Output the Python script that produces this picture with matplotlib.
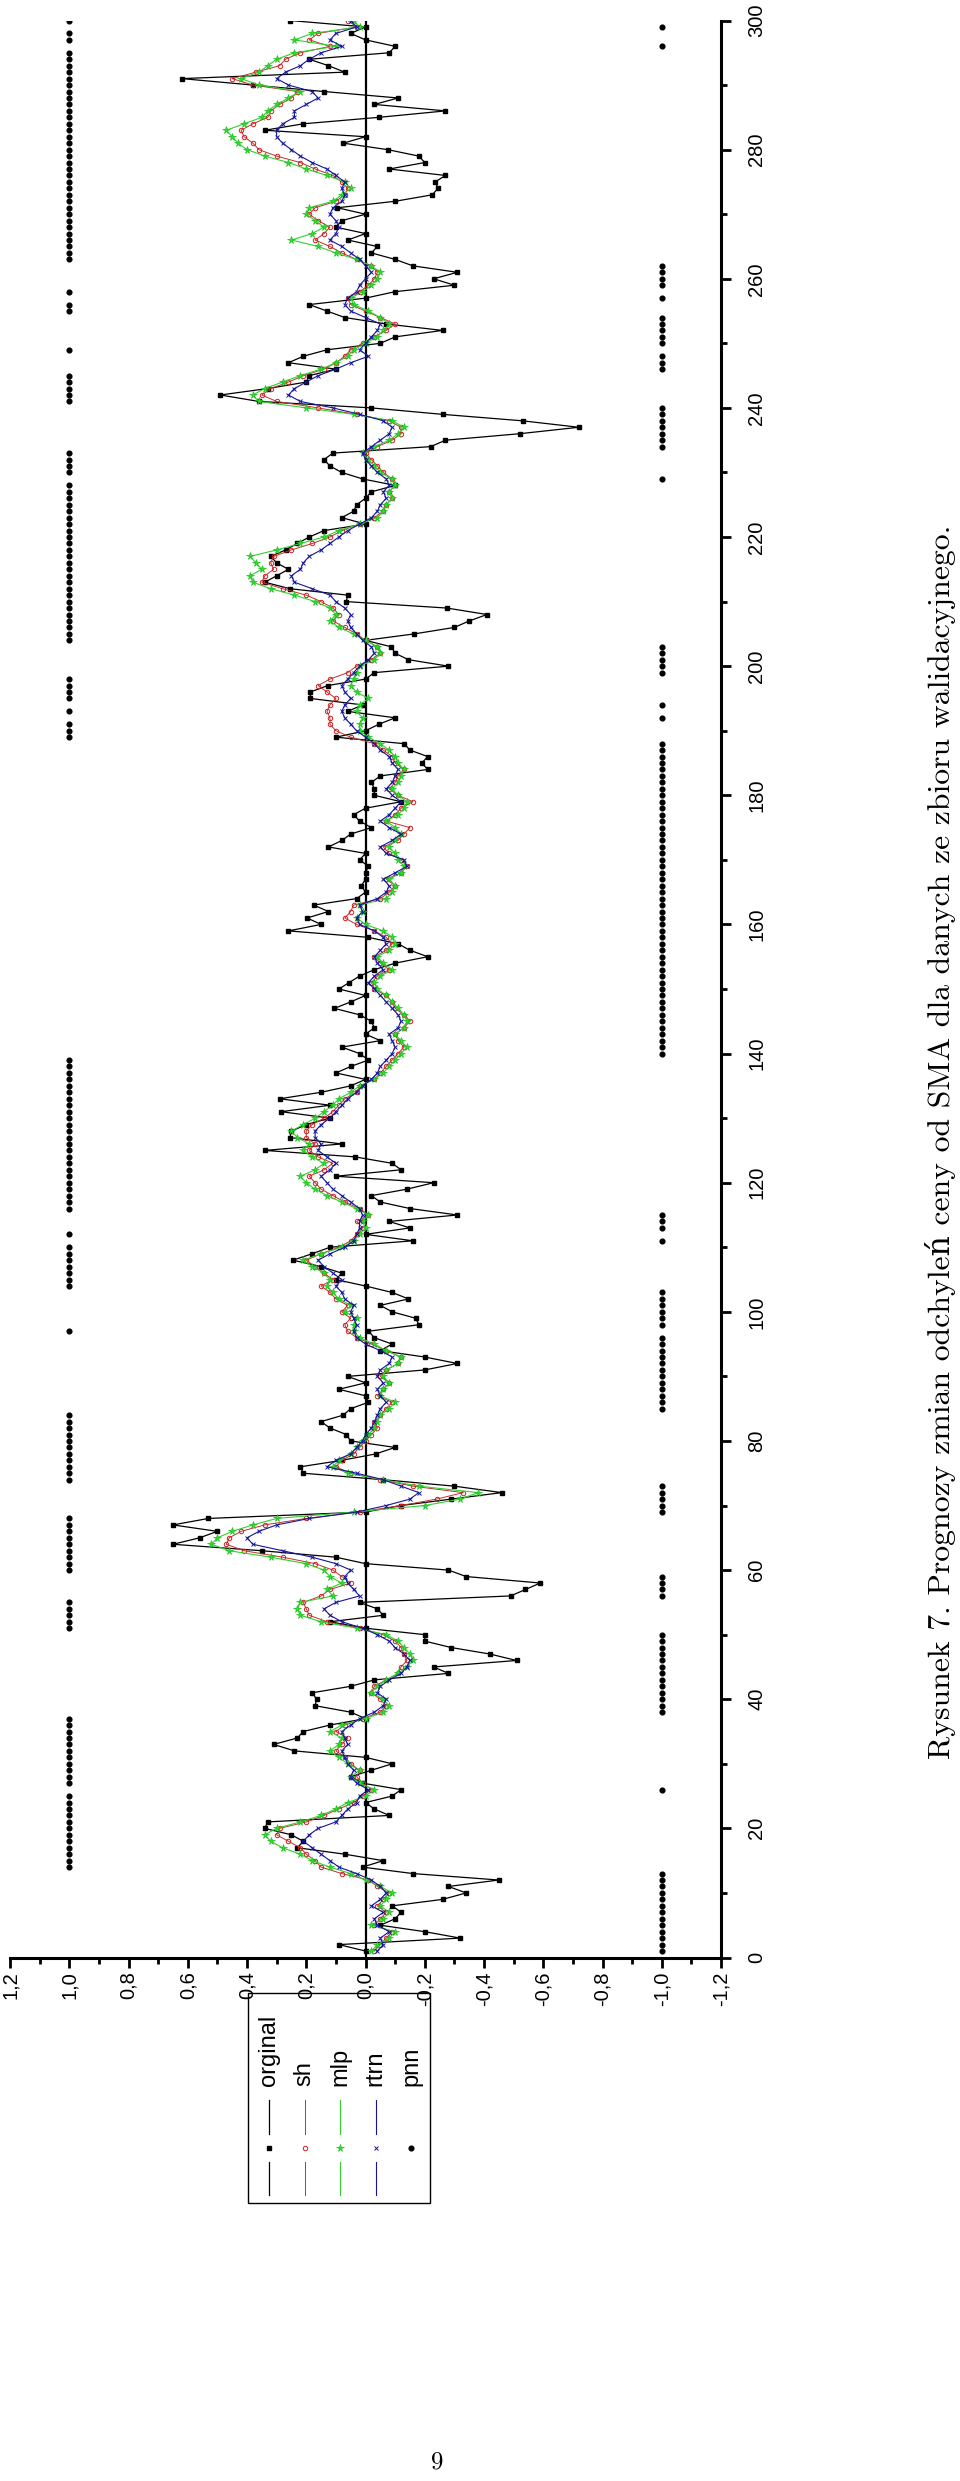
import numpy as np
import matplotlib
matplotlib.use("Agg")
import matplotlib.pyplot as plt
from matplotlib.lines import Line2D
from matplotlib.patches import Rectangle
from matplotlib.ticker import MultipleLocator, FuncFormatter

orginal = [
    0.00, 0.09, -0.32, -0.20, -0.05, -0.10, -0.12, -0.09, -0.26, -0.34,
    -0.28, -0.45, -0.16, 0.01, -0.06, 0.07, 0.23, 0.21, 0.25, 0.34,
    0.33, -0.08, -0.03, 0.00, -0.09, -0.12, 0.01, 0.05, -0.02, -0.09,
    0.00, 0.24, 0.31, 0.23, 0.21, 0.12, 0.00, 0.05, 0.17, 0.165,
    0.18, 0.05, -0.03, -0.28, -0.23, -0.51, -0.42, -0.29, -0.20, -0.20,
    0.00, 0.12, -0.06, -0.04, 0.02, -0.49, -0.54, -0.59, -0.34, -0.28,
    0.00, 0.10, 0.35, 0.65, 0.56, 0.50, 0.65, 0.53, 0.00, -0.12,
    -0.29, -0.46, -0.30, -0.06, 0.21, 0.22, 0.08, -0.035, -0.10, 0.05,
    0.065, 0.12, 0.15, 0.075, 0.05, -0.01, 0.00, 0.09, 0.00, 0.06,
    -0.20, -0.31, -0.20, -0.05, -0.09, -0.03, -0.01, -0.18, -0.17, -0.09,
    -0.05, -0.145, -0.09, 0.00, 0.10, 0.08, 0.15, 0.245, 0.18, 0.12,
    -0.16, 0.00, -0.15, -0.08, -0.31, -0.15, -0.05, -0.02, -0.14, -0.23,
    0.10, -0.12, -0.09, 0.035, 0.34, 0.08, 0.255, 0.25, 0.20, 0.12,
    0.285, 0.12, 0.29, 0.15, 0.05, 0.00, 0.10, 0.05, -0.01, 0.02,
    0.08, -0.05, 0.00, -0.03, -0.02, 0.02, 0.105, 0.05, 0.00, 0.09,
    0.055, 0.02, -0.03, -0.10, -0.21, -0.15, -0.11, -0.01, 0.26, 0.15,
    0.197, 0.125, 0.175, 0.03, 0.00, 0.014, 0.00, 0.00, -0.01, 0.02,
    0.00, 0.125, 0.08, 0.05, -0.02, 0.02, 0.04, 0.00, -0.12, -0.03,
    -0.03, -0.02, -0.05, -0.21, -0.19, -0.21, -0.15, -0.13, 0.10, 0.00,
    -0.045, -0.10, 0.06, 0.01, 0.186, 0.186, 0.127, 0.00, -0.03, -0.28,
    -0.145, -0.10, -0.087, 0.00, -0.165, -0.30, -0.35, -0.41, -0.275, 0.065,
    0.06, 0.255, 0.34, 0.30, 0.26, 0.30, 0.32, 0.27, 0.23, 0.19,
    0.14, 0.00, 0.08, 0.04, 0.03, 0.00, -0.02, -0.10, 0.01, 0.08,
    0.12, 0.14, 0.11, -0.22, -0.27, -0.52, -0.72, -0.53, -0.26, -0.02,
    0.36, 0.49, 0.33, 0.20, 0.19, 0.10, 0.26, 0.21, 0.13, -0.05,
    -0.10, -0.26, -0.07, 0.07, 0.13, 0.19, 0.00, -0.10, -0.30, -0.23,
    -0.31, -0.16, -0.10, -0.02, -0.04, 0.06, 0.00, 0.10, 0.08, 0.00,
    0.095, -0.10, -0.225, -0.245, -0.235, -0.27, -0.08, -0.20, -0.18, -0.075,
    0.075, 0.00, 0.34, 0.21, -0.045, -0.27, -0.03, -0.11, 0.14, 0.38,
    0.62, 0.07, 0.125, 0.19, -0.08, -0.10, 0.00, 0.05, 0.00, 0.255,
]

sh = [
    -0.03, -0.05, -0.07, -0.09, -0.03, -0.05, -0.07, -0.04, -0.06, -0.08,
    -0.04, -0.01, 0.08, 0.15, 0.17, 0.20, 0.22, 0.26, 0.30, 0.29,
    0.20, 0.14, 0.09, 0.04, 0.01, -0.02, 0.01, 0.03, 0.02, 0.05,
    0.07, 0.10, 0.08, 0.06, 0.10, 0.07, 0.01, -0.05, -0.07, -0.05,
    -0.02, -0.03, -0.07, -0.11, -0.12, -0.14, -0.13, -0.12, -0.10, -0.06,
    0.02, 0.13, 0.19, 0.20, 0.21, 0.15, 0.12, 0.05, 0.08, 0.11,
    0.17, 0.28, 0.41, 0.47, 0.46, 0.42, 0.34, 0.20, 0.02, -0.12,
    -0.24, -0.33, -0.16, -0.05, 0.05, 0.10, 0.08, 0.04, 0.02, 0.00,
    -0.02, -0.04, -0.03, -0.05, -0.07, -0.09, -0.04, -0.06, -0.08, -0.05,
    -0.07, -0.11, -0.12, -0.07, -0.02, 0.03, 0.06, 0.07, 0.05, 0.08,
    0.06, 0.10, 0.12, 0.15, 0.11, 0.14, 0.17, 0.20, 0.15, 0.09,
    0.05, 0.03, 0.01, 0.03, -0.01, 0.02, 0.07, 0.11, 0.15, 0.17,
    0.19, 0.14, 0.11, 0.16, 0.19, 0.17, 0.20, 0.20, 0.18, 0.14,
    0.11, 0.09, 0.07, 0.03, 0.02, -0.03, -0.05, -0.07, -0.09, -0.11,
    -0.13, -0.11, -0.10, -0.13, -0.15, -0.13, -0.10, -0.09, -0.07, -0.03,
    -0.02, -0.04, -0.08, -0.05, -0.03, -0.07, -0.09, -0.07, -0.03, 0.03,
    0.07, 0.05, 0.04, -0.05, -0.08, -0.10, -0.07, -0.12, -0.14, -0.12,
    -0.08, -0.06, -0.11, -0.13, -0.15, -0.07, -0.10, -0.12, -0.16, -0.11,
    -0.08, -0.10, -0.11, -0.13, -0.10, -0.09, -0.06, -0.03, 0.05, 0.10,
    0.12, 0.12, 0.13, 0.12, 0.10, 0.13, 0.16, 0.12, 0.06, 0.03,
    -0.02, -0.05, -0.04, 0.00, 0.03, 0.07, 0.11, 0.09, 0.11, 0.15,
    0.20, 0.28, 0.35, 0.34, 0.31, 0.32, 0.31, 0.25, 0.18, 0.12,
    0.08, 0.02, -0.03, -0.06, -0.07, -0.09, -0.08, -0.10, -0.09, -0.06,
    -0.04, -0.02, 0.00, -0.04, -0.09, -0.12, -0.12, -0.08, 0.03, 0.16,
    0.30, 0.35, 0.32, 0.26, 0.21, 0.14, 0.10, 0.07, 0.05, 0.01,
    -0.03, -0.07, -0.10, -0.05, 0.00, 0.05, 0.06, 0.02, -0.01, -0.03,
    -0.04, -0.02, 0.03, 0.08, 0.12, 0.17, 0.14, 0.12, 0.16, 0.19,
    0.17, 0.10, 0.07, 0.06, 0.08, 0.11, 0.17, 0.22, 0.30, 0.36,
    0.38, 0.41, 0.42, 0.38, 0.33, 0.32, 0.29, 0.25, 0.23, 0.38,
    0.45, 0.37, 0.29, 0.27, 0.22, 0.12, 0.19, 0.16, 0.03, 0.06,
]

mlp = [
    -0.02, -0.04, -0.08, -0.10, -0.02, -0.06, -0.08, -0.05, -0.07, -0.09,
    -0.05, 0.00, 0.05, 0.12, 0.18, 0.22, 0.28, 0.32, 0.34, 0.30,
    0.22, 0.15, 0.10, 0.06, 0.00, -0.03, 0.02, 0.05, 0.02, 0.06,
    0.09, 0.12, 0.09, 0.08, 0.12, 0.08, 0.00, -0.06, -0.08, -0.06,
    -0.02, -0.04, -0.07, -0.11, -0.14, -0.16, -0.15, -0.13, -0.11, -0.07,
    0.03, 0.15, 0.22, 0.23, 0.22, 0.11, 0.13, 0.08, 0.12, 0.14,
    0.20, 0.32, 0.46, 0.52, 0.50, 0.45, 0.38, 0.30, 0.04, -0.20,
    -0.32, -0.38, -0.18, -0.06, 0.06, 0.11, 0.09, 0.05, 0.03, 0.01,
    -0.01, -0.03, -0.04, -0.05, -0.08, -0.10, -0.05, -0.06, -0.08, -0.06,
    -0.07, -0.11, -0.12, -0.07, -0.03, 0.02, 0.04, 0.04, 0.03, 0.07,
    0.05, 0.09, 0.11, 0.13, 0.12, 0.14, 0.18, 0.21, 0.15, 0.08,
    0.04, 0.02, 0.00, 0.01, -0.01, 0.03, 0.08, 0.13, 0.17, 0.20,
    0.22, 0.17, 0.14, 0.18, 0.21, 0.19, 0.23, 0.25, 0.21, 0.17,
    0.14, 0.11, 0.09, 0.05, 0.02, -0.03, -0.06, -0.08, -0.10, -0.12,
    -0.14, -0.12, -0.10, -0.13, -0.14, -0.13, -0.11, -0.09, -0.07, -0.04,
    -0.03, -0.05, -0.09, -0.06, -0.04, -0.08, -0.10, -0.09, -0.06, 0.00,
    0.03, 0.01, 0.02, -0.07, -0.09, -0.10, -0.08, -0.12, -0.13, -0.11,
    -0.10, -0.08, -0.10, -0.12, -0.10, -0.07, -0.11, -0.13, -0.14, -0.11,
    -0.09, -0.11, -0.12, -0.13, -0.11, -0.10, -0.08, -0.05, -0.01, 0.02,
    0.02, 0.01, 0.03, 0.02, -0.01, 0.03, 0.05, 0.04, 0.03, 0.02,
    -0.03, -0.05, -0.04, 0.00, 0.04, 0.09, 0.12, 0.10, 0.12, 0.17,
    0.24, 0.32, 0.38, 0.39, 0.35, 0.37, 0.39, 0.30, 0.22, 0.14,
    0.09, 0.02, -0.04, -0.06, -0.07, -0.09, -0.08, -0.10, -0.09, -0.05,
    -0.03, -0.01, 0.01, -0.03, -0.08, -0.11, -0.13, -0.09, 0.04, 0.20,
    0.36, 0.38, 0.34, 0.28, 0.22, 0.15, 0.10, 0.06, 0.04, 0.00,
    -0.04, -0.06, -0.08, -0.05, -0.01, 0.04, 0.05, 0.01, -0.02, -0.04,
    -0.05, -0.02, 0.03, 0.10, 0.16, 0.25, 0.18, 0.14, 0.17, 0.20,
    0.19, 0.11, 0.08, 0.05, 0.07, 0.13, 0.20, 0.26, 0.34, 0.40,
    0.43, 0.45, 0.47, 0.41, 0.35, 0.33, 0.30, 0.26, 0.22, 0.36,
    0.42, 0.36, 0.33, 0.30, 0.24, 0.10, 0.24, 0.18, 0.02, 0.04,
]

rtrn = [
    -0.04, -0.06, -0.05, -0.08, -0.04, -0.03, -0.06, -0.02, -0.05, -0.07,
    -0.05, -0.02, 0.03, 0.09, 0.12, 0.15, 0.18, 0.21, 0.19, 0.16,
    0.10, 0.08, 0.06, 0.03, 0.02, -0.01, 0.03, 0.05, 0.04, 0.06,
    0.07, 0.08, 0.06, 0.07, 0.08, 0.05, 0.02, -0.03, -0.06, -0.07,
    -0.04, -0.05, -0.08, -0.12, -0.14, -0.15, -0.13, -0.10, -0.08, -0.04,
    0.01, 0.08, 0.12, 0.14, 0.10, 0.02, 0.04, 0.06, 0.07, 0.05,
    0.10, 0.18, 0.28, 0.38, 0.40, 0.36, 0.30, 0.19, 0.03, -0.07,
    -0.15, -0.18, -0.12, -0.06, 0.03, 0.13, 0.10, 0.05, 0.03, 0.01,
    0.00, -0.02, -0.03, -0.04, -0.05, -0.07, -0.05, -0.04, -0.06, -0.04,
    -0.05, -0.08, -0.09, -0.05, 0.00, 0.03, 0.04, 0.03, 0.04, 0.05,
    0.04, 0.07, 0.08, 0.10, 0.08, 0.11, 0.14, 0.16, 0.12, 0.07,
    0.04, 0.03, 0.02, 0.02, 0.01, 0.02, 0.05, 0.08, 0.11, 0.13,
    0.15, 0.12, 0.10, 0.13, 0.16, 0.15, 0.17, 0.17, 0.15, 0.12,
    0.10, 0.08, 0.06, 0.03, 0.01, -0.02, -0.04, -0.05, -0.07, -0.09,
    -0.10, -0.09, -0.08, -0.11, -0.12, -0.11, -0.09, -0.07, -0.05, -0.03,
    -0.01, -0.03, -0.06, -0.04, -0.03, -0.05, -0.07, -0.06, -0.03, 0.02,
    0.03, 0.01, 0.02, -0.04, -0.07, -0.08, -0.06, -0.10, -0.14, -0.13,
    -0.07, -0.05, -0.09, -0.12, -0.08, -0.05, -0.08, -0.10, -0.12, -0.09,
    -0.07, -0.09, -0.10, -0.11, -0.09, -0.08, -0.05, -0.03, 0.00, 0.03,
    0.05, 0.07, 0.08, 0.07, 0.05, 0.07, 0.08, 0.06, 0.04, 0.02,
    -0.01, -0.03, -0.02, 0.01, 0.03, 0.05, 0.06, 0.05, 0.07, 0.10,
    0.12, 0.18, 0.24, 0.25, 0.22, 0.21, 0.19, 0.15, 0.12, 0.09,
    0.06, 0.02, -0.02, -0.04, -0.05, -0.07, -0.06, -0.08, -0.07, -0.04,
    -0.02, 0.00, 0.01, -0.02, -0.05, -0.08, -0.09, -0.06, 0.02, 0.11,
    0.22, 0.26, 0.24, 0.20, 0.16, 0.10, 0.05, -0.01, 0.02, 0.00,
    -0.02, -0.04, -0.05, 0.00, 0.05, 0.07, 0.06, 0.03, 0.02, 0.00,
    -0.02, 0.00, 0.02, 0.05, 0.08, 0.12, 0.10, 0.09, 0.10, 0.12,
    0.11, 0.08, 0.07, 0.08, 0.07, 0.10, 0.13, 0.18, 0.22, 0.25,
    0.28, 0.30, 0.30, 0.28, 0.24, 0.24, 0.20, 0.16, 0.18, 0.26,
    0.30, 0.27, 0.22, 0.19, 0.15, 0.08, 0.12, 0.10, 0.03, 0.05,
]

# pnn signal: runs of (first x, last x, value)
pnn_runs = [
    (1, 13, -1), (14, 25, 1), (26, 26, -1), (27, 37, 1), (38, 50, -1),
    (51, 55, 1), (56, 59, -1), (60, 68, 1), (69, 73, -1), (74, 84, 1),
    (85, 96, -1), (97, 97, 1), (98, 103, -1), (104, 110, 1), (111, 111, -1),
    (112, 112, 1), (113, 115, -1), (116, 139, 1), (140, 188, -1), (189, 191, 1),
    (192, 192, -1), (193, 193, 1), (194, 194, -1), (195, 198, 1), (199, 203, -1),
    (204, 228, 1), (229, 229, -1), (230, 233, 1), (234, 240, -1), (241, 245, 1),
    (246, 248, -1), (249, 249, 1), (250, 254, -1), (255, 256, 1), (257, 257, -1),
    (258, 258, 1), (259, 262, -1), (263, 295, 1), (296, 296, -1), (297, 298, 1),
    (299, 299, -1), (300, 300, 1),
]

labels = ["orginal", "sh", "mlp", "rtrn", "pnn"]
caption = "Rysunek 7. Prognozy zmian odchyleń ceny od SMA dla danych ze zbioru walidacyjnego."

x = np.arange(1, 301)
pnn = []
for a, b, v in pnn_runs:
    pnn += [v] * (b - a + 1)

W, H = 960, 2481
fig = plt.figure(figsize=(W / 100, H / 100), dpi=100)
fig.patch.set_facecolor("white")

tick_font = "Liberation Sans"
serif = ["cmr10", "DejaVu Serif"]

# page is landscape figure turned 90 deg: values run right->left, x runs bottom->top
left, right, top, bottom = 10, 721, 20.5, 1957.5
ax = fig.add_axes([left / W, 1 - bottom / H, (right - left) / W, (bottom - top) / H])

styles = [
    dict(color="black", lw=0.9, marker="s", ms=2.4, mfc="black", mec="black"),
    dict(color="#c03030", lw=0.7, marker="o", ms=3.2, mfc="none", mec="#d02020", mew=0.7),
    dict(color="#30d030", lw=0.8, marker="*", ms=5.5, mfc="#30e030", mec="#20c020", mew=0.5),
    dict(color="#15159a", lw=0.8, marker="x", ms=3.5, mec="#15159a", mew=0.7),
]
for ys, st in zip([orginal, sh, mlp, rtrn], styles):
    ax.plot(ys, x, zorder=3, **st)
ax.plot(pnn, x, linestyle="none", marker="o", ms=3.4, color="black", zorder=3)

ax.axvline(0, color="black", lw=1.6, zorder=2)

ax.set_xlim(1.2, -1.2)
ax.set_ylim(0, 300)
for s in ["top", "left"]:
    ax.spines[s].set_visible(False)
for s in ["bottom", "right"]:
    ax.spines[s].set_linewidth(2.2)
ax.yaxis.tick_right()
ax.xaxis.set_major_locator(MultipleLocator(0.2))
ax.xaxis.set_minor_locator(MultipleLocator(0.1))
ax.yaxis.set_major_locator(MultipleLocator(20))
ax.yaxis.set_minor_locator(MultipleLocator(10))


def comma(v, pos):
    if abs(v) < 1e-9:
        return "0,0"
    return f"{v:.1f}".replace(".", ",")


ax.xaxis.set_major_formatter(FuncFormatter(comma))
ax.tick_params(which="major", direction="out", length=7, width=2, labelsize=14.5, pad=3)
ax.tick_params(which="minor", direction="out", length=4, width=2)
ax.tick_params(axis="y", pad=12)
for lab in ax.get_xticklabels():
    lab.set_rotation(90)
    lab.set_family(tick_font)
    lab.set_va("top")
    lab.set_ha("center")
for lab in ax.get_yticklabels():
    lab.set_rotation(90)
    lab.set_family(tick_font)
    lab.set_va("center")
    lab.set_ha("left")

# overlay in page pixels for legend, caption, page number
ov = fig.add_axes([0, 0, 1, 1])
ov.set_xlim(0, W)
ov.set_ylim(H, 0)
ov.axis("off")
ov.patch.set_alpha(0)

ov.add_patch(Rectangle((248, 1993), 182, 210, fill=False, ec="black", lw=1.0))
leg_styles = styles + [dict(color="black", marker="o", ms=3.4, linestyle="none")]
for i, (lab, st) in enumerate(zip(labels, leg_styles)):
    cx = 269 + i * 35.5
    if i < 4:
        ov.add_line(Line2D([cx, cx], [2195, 2162], color=st["color"], lw=st["lw"]))
        ov.add_line(Line2D([cx, cx], [2134, 2100], color=st["color"], lw=st["lw"]))
    mst = {k: v for k, v in st.items() if k not in ("color", "lw", "linestyle")}
    ov.add_line(Line2D([cx], [2148], linestyle="none", color=st["color"], **mst))
    ov.text(cx, 2086, lab, rotation=90, ha="center", va="bottom",
            fontsize=17, family=tick_font)

# caption, scaled until it spans its length on the page
cap = ov.text(941, 1142, caption, rotation=90, ha="center", va="center",
              fontsize=20, family=serif)
for _ in range(3):
    fig.canvas.draw()
    ext = cap.get_window_extent()
    cap.set_fontsize(cap.get_fontsize() * 1235 / ext.height)

ov.text(437, 2462, "9", ha="center", va="center", fontsize=18, family=serif)

fig.savefig("out.png", dpi=100)
